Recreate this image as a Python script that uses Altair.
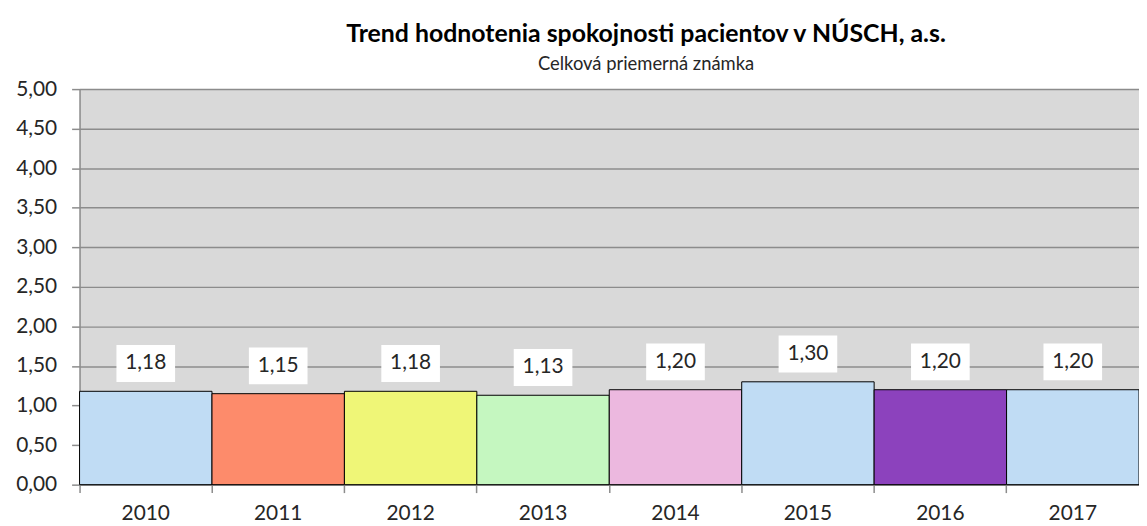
import altair as alt
import pandas as pd

years = ["2010", "2011", "2012", "2013", "2014", "2015", "2016", "2017"]
values = [1.18, 1.15, 1.18, 1.13, 1.20, 1.30, 1.20, 1.20]
labels = ["1,18", "1,15", "1,18", "1,13", "1,20", "1,30", "1,20", "1,20"]
colors = ["#c0dcf4", "#fd8b6b", "#eff677", "#c5f7c0", "#ecb8df", "#c0dcf4", "#8c42bd", "#c0dcf4"]
y_ticks = [0, 0.5, 1, 1.5, 2, 2.5, 3, 3.5, 4, 4.5, 5]

title_text = "Trend hodnotenia spokojnosti pacientov v NÚSCH, a.s."
subtitle_text = "Celková priemerná známka"

df = pd.DataFrame({"year": years, "value": values, "label": labels})

FONT = "Lato"
W = 1066
H = 398

x = alt.X(
    "year:N",
    sort=years,
    scale=alt.Scale(paddingInner=0, paddingOuter=0),
    axis=alt.Axis(
        title=None,
        bandPosition=0,
        labelAngle=0,
        labelFont=FONT,
        labelFontSize=21,
        labelColor="#262626",
        labelPadding=10,
        tickSize=8,
        tickColor="#8c8c8c",
        tickWidth=1.5,
        domainColor="#8c8c8c",
        domainWidth=1.5,
        grid=False,
    ),
)

y = alt.Y(
    "value:Q",
    scale=alt.Scale(domain=[0, 5], nice=False),
    axis=alt.Axis(
        title=None,
        values=y_ticks,
        labelExpr="replace(format(datum.value, '.2f'), '.', ',')",
        labelFont=FONT,
        labelFontSize=21,
        labelColor="#262626",
        labelPadding=15,
        tickSize=8,
        tickColor="#8c8c8c",
        tickWidth=1.5,
        domainColor="#8c8c8c",
        domainWidth=1.5,
        grid=True,
        gridColor="#8c8c8c",
        gridWidth=1.5,
    ),
)

bars = alt.Chart(df).mark_bar(stroke="#000000", strokeWidth=1).encode(
    x=x,
    y=y,
    color=alt.Color("year:N", scale=alt.Scale(domain=years, range=colors), legend=None),
)

boxes = alt.Chart(df).mark_point(
    shape="M-1,-0.63L1,-0.63L1,0.63L-1,0.63Z",
    size=59 * 59,
    filled=True,
    fill="white",
    opacity=1,
    strokeWidth=0,
    yOffset=-28,
).encode(x=x, y=y)

texts = alt.Chart(df).mark_text(
    font=FONT,
    fontSize=21,
    color="#262626",
    baseline="middle",
    align="center",
    yOffset=-28,
).encode(x=x, y=y, text="label:N")

chart = (
    alt.layer(bars, boxes, texts)
    .properties(
        width=W,
        height=H,
        title=alt.TitleParams(
            text=title_text,
            subtitle=subtitle_text,
            font=FONT,
            fontSize=25,
            fontWeight="bold",
            color="#000000",
            subtitleFont=FONT,
            subtitleFontSize=18.5,
            subtitleColor="#262626",
            subtitlePadding=8,
            anchor="middle",
            dx=37,
            offset=5,
        ),
        autosize=alt.AutoSizeParams(type="none"),
        padding={"left": 72, "top": 80, "right": 0, "bottom": 40},
    )
    .configure_view(fill="#d9d9d9", stroke=None)
)

chart.save("out.html", embed_options={"renderer": "svg", "actions": False})
